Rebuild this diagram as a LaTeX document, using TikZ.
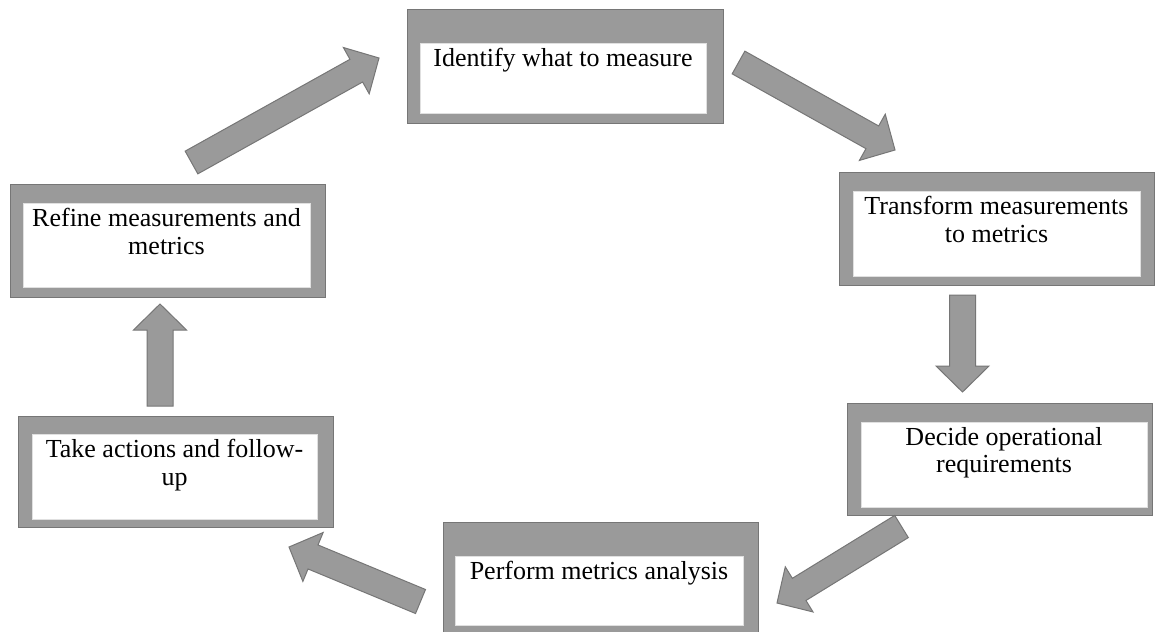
\documentclass[tikz,border=0pt]{standalone}
\usepackage{fontspec}
\setmainfont{Liberation Serif}
\usetikzlibrary{calc}
\definecolor{boxgray}{RGB}{154,154,154}
\definecolor{edgegray}{RGB}{118,118,118}
\tikzset{
 outerbox/.style={draw=edgegray, fill=boxgray, line width=1pt, inner sep=0pt, anchor=north west},
 innerbox/.style={fill=white, draw=white!88!black, line width=0.5pt, inner sep=0pt, anchor=north west},
 boxtext/.style={anchor=north, inner sep=0pt, align=center, font=\fontsize{26}{27.5}\selectfont},
 blockarr/.style={draw=edgegray, fill=boxgray, line width=1pt, line join=miter},
}
\newcommand\blockarrow[2]{%
 \coordinate (hb) at ($(#2)!26pt!(#1)$);
 \draw[blockarr] ($(#1)!13pt!90:(#2)$) -- ($(hb)!13pt!-90:(#1)$) -- ($(hb)!26.5pt!-90:(#1)$) -- (#2) -- ($(hb)!26.5pt!90:(#1)$) -- ($(hb)!13pt!90:(#1)$) -- ($(#1)!13pt!-90:(#2)$) -- cycle;}
\begin{document}
\begin{tikzpicture}[x=1pt,y=-1pt]
\useasboundingbox[fill=white] (0,0) rectangle (1155,631);
% Box 1: Identify
\node[outerbox, minimum width=316pt, minimum height=114pt] (o1) at (407,9) {};
\node[innerbox, minimum width=286pt, minimum height=70pt] (i1) at (420,43) {};
\node[boxtext] (t1) at (563,48) {Identify what to measure};
% Box 2: Transform
\node[outerbox, minimum width=315pt, minimum height=113pt] (o2) at (839,172) {};
\node[innerbox, minimum width=287pt, minimum height=85pt] (i2) at (853,191) {};
\node[boxtext] (t2) at (996.5,196) {Transform measurements\\to metrics};
% Box 3: Refine
\node[outerbox, minimum width=315pt, minimum height=113pt] (o3) at (10,184) {};
\node[innerbox, minimum width=287pt, minimum height=84pt] (i3) at (23,203) {};
\node[boxtext] (t3) at (166.5,208) {Refine measurements and\\metrics};
% Box 4: Perform
\node[outerbox, minimum width=315pt, minimum height=112pt] (o4) at (443,522) {};
\node[innerbox, minimum width=288pt, minimum height=69pt] (i4) at (455,556) {};
\node[boxtext] (t4) at (599,561) {Perform metrics analysis};
% Box 5: Take actions
\node[outerbox, minimum width=315pt, minimum height=111pt] (o5) at (18,416) {};
\node[innerbox, minimum width=285pt, minimum height=85pt] (i5) at (32,434) {};
\node[boxtext] (t5) at (174.5,439) {Take actions and follow-\\up};
% Box 6: Decide
\node[outerbox, minimum width=305pt, minimum height=112pt] (o6) at (847,403) {};
\node[innerbox, minimum width=286pt, minimum height=85pt] (i6) at (861,422) {};
\node[boxtext] (t6) at (1004,427) {Decide operational\\requirements};
% arrow end points
\coordinate (aS) at (191.5,162.5); \coordinate (aT) at (379,58);
\coordinate (bS) at (738.5,62.5);  \coordinate (bT) at (895,150);
\coordinate (cS) at (962.5,295);   \coordinate (cT) at (962.5,392);
\coordinate (dS) at (901.5,526.5); \coordinate (dT) at (777,603);
\coordinate (eS) at (420.5,601.5); \coordinate (eT) at (289,547);
\coordinate (fS) at (160,406);     \coordinate (fT) at (160,304);
\blockarrow{aS}{aT}
\blockarrow{bS}{bT}
\blockarrow{cS}{cT}
\blockarrow{dS}{dT}
\blockarrow{eS}{eT}
\blockarrow{fS}{fT}
\end{tikzpicture}
\end{document}
